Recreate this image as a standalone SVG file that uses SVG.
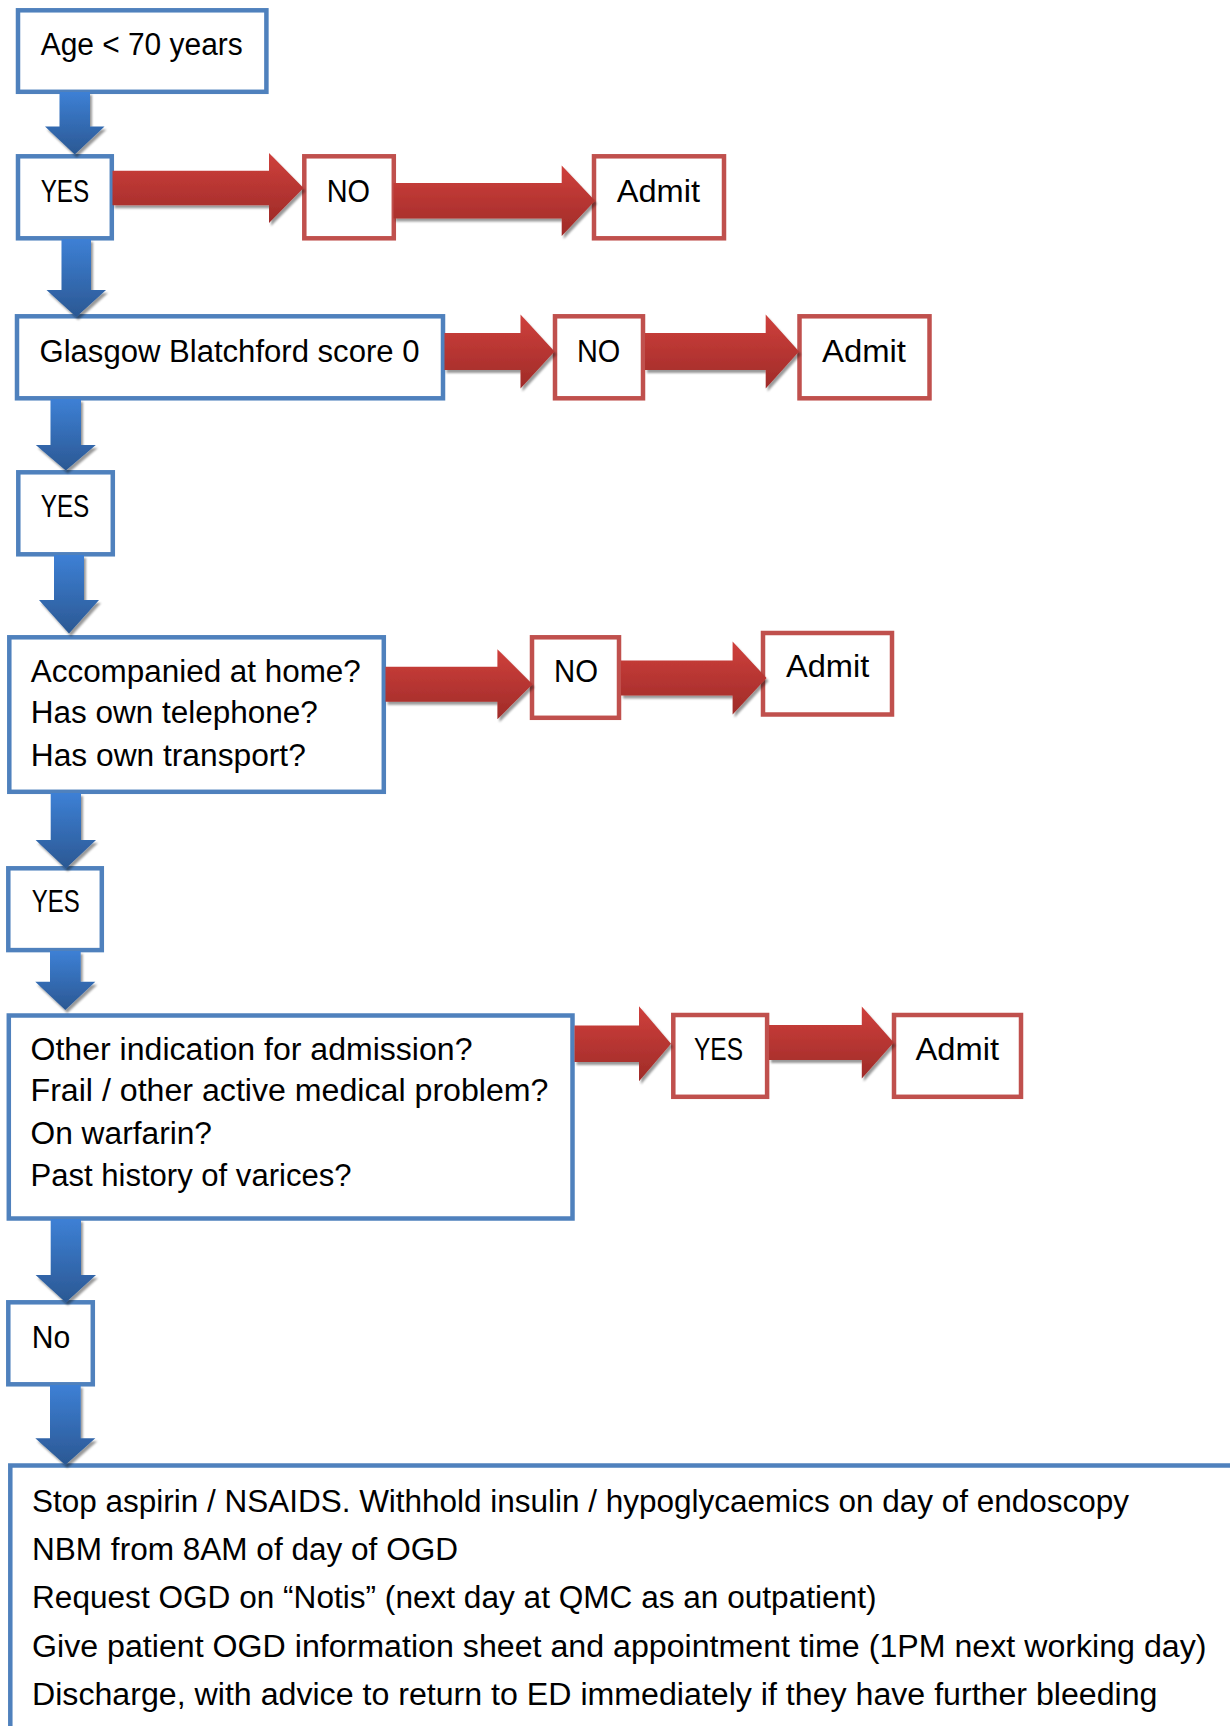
<svg xmlns="http://www.w3.org/2000/svg" width="1230" height="1726" viewBox="0 0 1230 1726">
<defs>
<style>
.bb{fill:#fff;stroke:#4F81BD;stroke-width:4.5}
.rb{fill:#fff;stroke:#C0504D;stroke-width:4.5}
text{font-family:"Liberation Sans",Arial,sans-serif;font-size:31px;fill:#000}
.ba{fill:url(#gb);filter:url(#sh)}
.ra{fill:url(#gr);filter:url(#sh)}
</style>
<linearGradient id="gb" x1="0" y1="0" x2="0" y2="1">
<stop offset="0" stop-color="#3D80D5"/>
<stop offset="1" stop-color="#2B5893"/>
</linearGradient>
<linearGradient id="gr" x1="0" y1="0" x2="0" y2="1">
<stop offset="0" stop-color="#CF403C"/>
<stop offset="1" stop-color="#9F2B28"/>
</linearGradient>
<filter id="sh" x="-20%" y="-20%" width="140%" height="150%">
<feDropShadow dx="2" dy="3" stdDeviation="1.2" flood-color="#000" flood-opacity="0.4"/>
</filter>
</defs>

<g id="n-age"><rect class="bb" x="18" y="10.3" width="248.4" height="81.5"/><text x="40.7" y="55" textLength="202" lengthAdjust="spacingAndGlyphs">Age &lt; 70 years</text></g>
<g id="n-yes1"><rect class="bb" x="18" y="156.3" width="93.8" height="82"/><text x="40.7" y="201.7" textLength="48.5" lengthAdjust="spacingAndGlyphs">YES</text></g>
<g id="n-no1"><rect class="rb" x="304.3" y="156.3" width="89.5" height="82"/><text x="326.7" y="201.7" textLength="43.3" lengthAdjust="spacingAndGlyphs">NO</text></g>
<g id="n-admit1"><rect class="rb" x="594" y="156.3" width="130" height="82"/><text x="616.7" y="201.7" textLength="83.3" lengthAdjust="spacingAndGlyphs">Admit</text></g>

<g id="n-gbs"><rect class="bb" x="17" y="316.3" width="426" height="82"/><text x="39.5" y="361.5" textLength="380" lengthAdjust="spacingAndGlyphs">Glasgow Blatchford score 0</text></g>
<g id="n-no2"><rect class="rb" x="555" y="316.3" width="88" height="82"/><text x="577" y="361.5" textLength="43.3" lengthAdjust="spacingAndGlyphs">NO</text></g>
<g id="n-admit2"><rect class="rb" x="799.5" y="316.3" width="130" height="82"/><text x="822" y="361.5" textLength="84" lengthAdjust="spacingAndGlyphs">Admit</text></g>

<g id="n-yes2"><rect class="bb" x="18.3" y="472.3" width="94.5" height="82"/><text x="40.7" y="517.3" textLength="48.6" lengthAdjust="spacingAndGlyphs">YES</text></g>

<g id="n-home"><rect class="bb" x="9.3" y="637.3" width="374.5" height="154.5"/>
<text x="30.8" y="681.7" textLength="330" lengthAdjust="spacingAndGlyphs">Accompanied at home?</text>
<text x="30.8" y="723" textLength="287" lengthAdjust="spacingAndGlyphs">Has own telephone?</text>
<text x="30.8" y="765.7" textLength="275" lengthAdjust="spacingAndGlyphs">Has own transport?</text></g>
<g id="n-no3"><rect class="rb" x="532" y="637.3" width="87" height="80.5"/><text x="554" y="681.7" textLength="44" lengthAdjust="spacingAndGlyphs">NO</text></g>
<g id="n-admit3"><rect class="rb" x="763" y="633" width="129" height="81.5"/><text x="786" y="676.7" textLength="83.3" lengthAdjust="spacingAndGlyphs">Admit</text></g>

<g id="n-yes3"><rect class="bb" x="8.3" y="868.3" width="93.5" height="81.8"/><text x="31.7" y="912.3" textLength="48" lengthAdjust="spacingAndGlyphs">YES</text></g>

<g id="n-other"><rect class="bb" x="8.8" y="1015.5" width="563.7" height="203"/>
<text x="30.5" y="1060" textLength="442" lengthAdjust="spacingAndGlyphs">Other indication for admission?</text>
<text x="30.5" y="1101" textLength="518" lengthAdjust="spacingAndGlyphs">Frail / other active medical problem?</text>
<text x="30.5" y="1144" textLength="181.5" lengthAdjust="spacingAndGlyphs">On warfarin?</text>
<text x="30.5" y="1185.5" textLength="321" lengthAdjust="spacingAndGlyphs">Past history of varices?</text></g>
<g id="n-yes4"><rect class="rb" x="673.3" y="1015" width="93.8" height="81.8"/><text x="694" y="1060" textLength="49" lengthAdjust="spacingAndGlyphs">YES</text></g>
<g id="n-admit4"><rect class="rb" x="894" y="1015" width="127" height="81.8"/><text x="915.5" y="1060" textLength="83.5" lengthAdjust="spacingAndGlyphs">Admit</text></g>

<g id="n-no4"><rect class="bb" x="8.3" y="1302.3" width="84.5" height="82"/><text x="31.7" y="1347.7" textLength="38.5" lengthAdjust="spacingAndGlyphs">No</text></g>

<g id="n-final"><rect class="bb" x="10.3" y="1465.5" width="1400" height="400"/>
<text x="32" y="1511.7" textLength="1097" lengthAdjust="spacingAndGlyphs">Stop aspirin / NSAIDS. Withhold insulin / hypoglycaemics on day of endoscopy</text>
<text x="32" y="1560" textLength="426" lengthAdjust="spacingAndGlyphs">NBM from 8AM of day of OGD</text>
<text x="32" y="1608.3" textLength="844.5" lengthAdjust="spacingAndGlyphs">Request OGD on “Notis” (next day at QMC as an outpatient)</text>
<text x="32" y="1656.7" textLength="1174.5" lengthAdjust="spacingAndGlyphs">Give patient OGD information sheet and appointment time (1PM next working day)</text>
<text x="32" y="1705" textLength="1125.5" lengthAdjust="spacingAndGlyphs">Discharge, with advice to return to ED immediately if they have further bleeding</text></g>

<g id="connectors">
<path class="ba" d="M59.5,92 H90 V126.5 H104.5 L74.75,154.5 L45,126.5 H59.5 Z"/>
<path class="ba" d="M61.5,239 H91 V290 H106 L76.25,317 L46.5,290 H61.5 Z"/>
<path class="ba" d="M50.5,399 H81 V445 H95.8 L65.8,470.5 L35.8,445 H50.5 Z"/>
<path class="ba" d="M54,555 H84 V600 H99 L69,633.5 L39,600 H54 Z"/>
<path class="ba" d="M50.7,793 H81 V840 H96 L65.8,868.5 L35.6,840 H50.7 Z"/>
<path class="ba" d="M50,951 H80.7 V981.7 H95.3 L65.3,1010 L35.3,981.7 H50 Z"/>
<path class="ba" d="M50.7,1219 H81 V1275 H96 L65.8,1302.5 L35.6,1275 H50.7 Z"/>
<path class="ba" d="M50,1385 H80.7 V1438.3 H95.3 L65.3,1465 L35.3,1438.3 H50 Z"/>

<path class="ra" d="M112.5,170.8 H269 V153 L303.5,188 L269,223 V205.2 H112.5 Z"/>
<path class="ra" d="M393.5,183.1 H561.7 V165.5 L595,200.8 L561.7,236.1 V218.5 H393.5 Z"/>
<path class="ra" d="M444.5,333 H520.5 V314.5 L554.5,351.5 L520.5,388.5 V370 H444.5 Z"/>
<path class="ra" d="M645,333 H765.7 V314.5 L799,351.5 L765.7,388.5 V370 H645 Z"/>
<path class="ra" d="M385.5,666.7 H497.4 V649.2 L532.5,684.2 L497.4,719.2 V701.7 H385.5 Z"/>
<path class="ra" d="M621,660.5 H732.6 V641.5 L766.5,678 L732.6,714.5 V695.5 H621 Z"/>
<path class="ra" d="M574.5,1025.4 H639 V1006.2 L671,1043.7 L639,1081.2 V1062 H574.5 Z"/>
<path class="ra" d="M769,1025 H861.8 V1006.5 L893.7,1042.5 L861.8,1078.5 V1060 H769 Z"/>
</g>
</svg>
